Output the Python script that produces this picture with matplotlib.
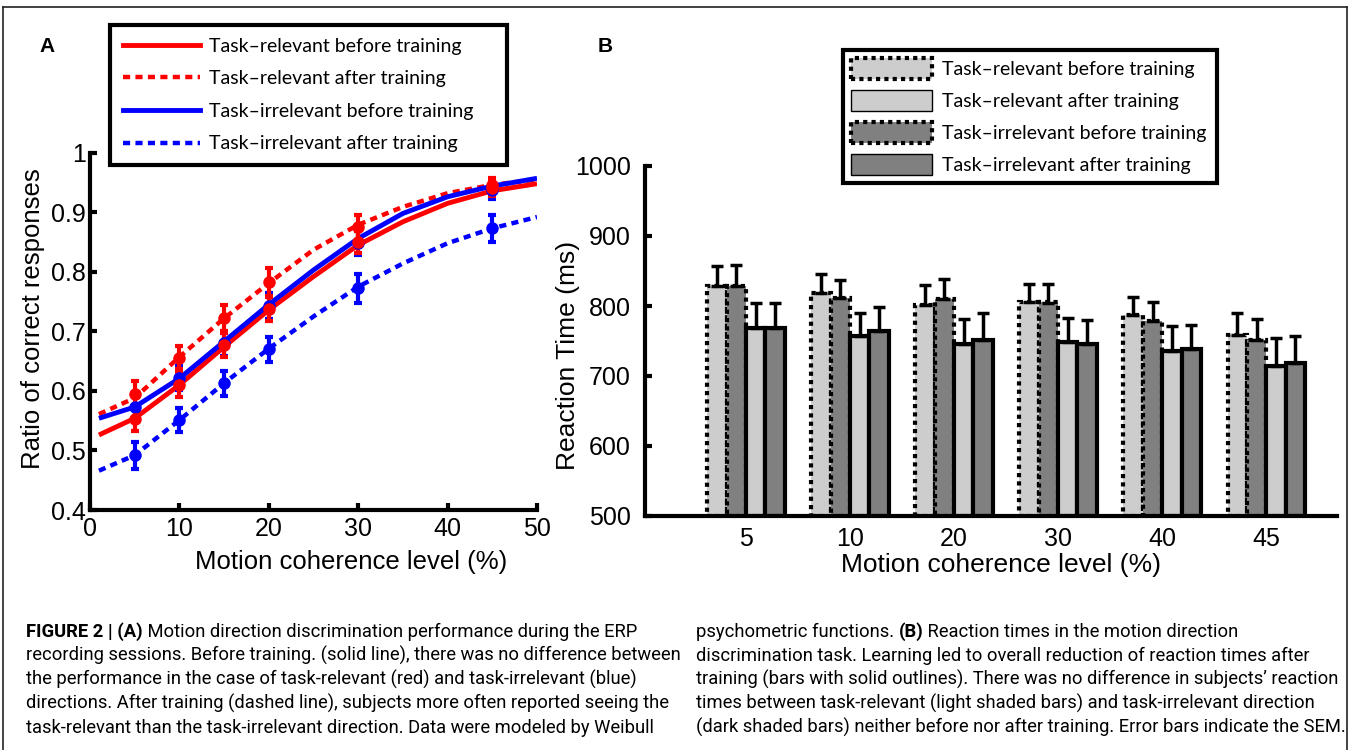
import matplotlib.pyplot as plt
import numpy as np
from matplotlib.lines import Line2D
from matplotlib.patches import Patch

# ---------------- data: panel A (psychometric) ----------------
coherence = [5, 10, 15, 20, 30, 45]
rel_before = [0.552, 0.610, 0.677, 0.738, 0.850, 0.940]
rel_after = [0.595, 0.656, 0.722, 0.783, 0.875, 0.946]
irr_before = [0.573, 0.621, 0.680, 0.743, 0.848, 0.937]
irr_after = [0.492, 0.551, 0.613, 0.670, 0.772, 0.873]
sem_rel_before = [0.020, 0.020, 0.020, 0.020, 0.018, 0.012]
sem_rel_after = [0.021, 0.020, 0.022, 0.024, 0.021, 0.012]
sem_irr_before = [0.020, 0.020, 0.021, 0.022, 0.020, 0.014]
sem_irr_after = [0.023, 0.020, 0.021, 0.021, 0.024, 0.023]

# Weibull fits
fit_x = [1, 5, 10, 15, 20, 25, 30, 35, 40, 45, 50]
fit_rel_before = [0.526, 0.554, 0.610, 0.674, 0.736, 0.792, 0.845, 0.884, 0.915, 0.936, 0.948]
fit_irr_before = [0.554, 0.573, 0.621, 0.683, 0.745, 0.803, 0.856, 0.898, 0.926, 0.944, 0.957]
fit_rel_after = [0.561, 0.588, 0.657, 0.722, 0.781, 0.837, 0.879, 0.909, 0.932, 0.946, 0.955]
fit_irr_after = [0.466, 0.492, 0.551, 0.613, 0.671, 0.725, 0.775, 0.814, 0.848, 0.873, 0.892]

# ---------------- data: panel B (reaction times) ----------------
groups = ['5', '10', '20', '30', '40', '45']
rt_rel_before = [828, 818, 802, 806, 787, 758]
rt_irr_before = [829, 812, 810, 805, 778, 751]
rt_rel_after = [769, 757, 746, 749, 736, 714]
rt_irr_after = [768, 764, 752, 746, 739, 718]
se_rel_before = [29, 28, 28, 25, 26, 32]
se_irr_before = [29, 25, 29, 26, 28, 30]
se_rel_after = [35, 33, 36, 34, 35, 40]
se_irr_after = [36, 35, 38, 34, 34, 39]

legend_labels = ['Task\u2013relevant before training', 'Task\u2013relevant after training',
                 'Task\u2013irrelevant before training', 'Task\u2013irrelevant after training']

# caption lines: parts alternate bold / regular, starting with bold
caption_left = [
    ('FIGURE 2 | (A)', ' Motion direction discrimination performance during the ERP'),
    ('', 'recording sessions. Before training. (solid line), there was no difference between'),
    ('', 'the performance in the case of task-relevant (red) and task-irrelevant (blue)'),
    ('', 'directions. After training (dashed line), subjects more often reported seeing the'),
    ('', 'task-relevant than the task-irrelevant direction. Data were modeled by Weibull'),
]
caption_right = [
    ('', 'psychometric functions. ', '(B)', ' Reaction times in the motion direction'),
    ('', 'discrimination task. Learning led to overall reduction of reaction times after'),
    ('', 'training (bars with solid outlines). There was no difference in subjects\u2019 reaction'),
    ('', 'times between task-relevant (light shaded bars) and task-irrelevant direction'),
    ('', '(dark shaded bars) neither before nor after training. Error bars indicate the SEM.'),
]

# ---------------- figure ----------------
W, H = 1354, 750
fig = plt.figure(figsize=(W / 100, H / 100), dpi=100)
plt.rcParams['font.family'] = ['Liberation Sans', 'DejaVu Sans']


def fx(px):
    return px / W


def fy(py):
    return 1 - py / H


RED = '#ff0000'
BLUE = '#0000ff'
dots = (0, (1.6, 1.2))
tick_font = 18
label_font = 19
leg_font = dict(family=['Lato', 'DejaVu Sans'], size=14)

# ---------------- panel A ----------------
axA = fig.add_axes([fx(90), fy(510), fx(537) - fx(90), fy(152.7) - fy(510)])
axA.plot(fit_x, fit_rel_before, color=RED, lw=3.5, solid_capstyle='butt')
axA.plot(fit_x, fit_rel_after, color=RED, lw=3.2, linestyle=dots, dash_capstyle='butt')
axA.plot(fit_x, fit_irr_before, color=BLUE, lw=3.5, solid_capstyle='butt')
axA.plot(fit_x, fit_irr_after, color=BLUE, lw=3.2, linestyle=dots, dash_capstyle='butt')

for vals, err, c in [(irr_after, sem_irr_after, BLUE), (irr_before, sem_irr_before, BLUE),
                     (rel_before, sem_rel_before, RED), (rel_after, sem_rel_after, RED)]:
    axA.errorbar(coherence, vals, yerr=err, fmt='o', color=c, ms=8,
                 elinewidth=3, capsize=3, capthick=3, zorder=4)

axA.set_xlim(0, 50)
axA.set_ylim(0.4, 1)
axA.set_xticks([0, 10, 20, 30, 40, 50])
axA.set_yticks([0.4, 0.5, 0.6, 0.7, 0.8, 0.9, 1.0])
axA.set_yticklabels(['0.4', '0.5', '0.6', '0.7', '0.8', '0.9', '1'])
for s in ['top', 'right']:
    axA.spines[s].set_visible(False)
for s in ['left', 'bottom']:
    axA.spines[s].set_linewidth(3)
axA.tick_params(direction='in', length=5, width=3, labelsize=tick_font)
axA.tick_params(axis='y', pad=3)
axA.tick_params(axis='x', pad=5)
axA.set_xlabel('Motion coherence level (%)', fontsize=label_font - 0.5)
axA.set_ylabel('Ratio of correct responses', fontsize=label_font - 0.5)
axA.xaxis.set_label_coords(0.584, -0.113)
axA.yaxis.set_label_coords(-0.1, 0.535)

hA = [Line2D([], [], color=RED, lw=3.5),
      Line2D([], [], color=RED, lw=3.2, linestyle=dots),
      Line2D([], [], color=BLUE, lw=3.5),
      Line2D([], [], color=BLUE, lw=3.2, linestyle=dots)]
legA = axA.legend(hA, legend_labels, loc='upper left', mode='expand',
                  bbox_to_anchor=(fx(110), fy(165), fx(507) - fx(110), fy(25) - fy(165)),
                  bbox_transform=fig.transFigure, borderaxespad=0, prop=leg_font,
                  fancybox=False, edgecolor='black', framealpha=1,
                  handlelength=3.96, handletextpad=0.46, labelspacing=0.8, borderpad=0.65)
legA.get_frame().set_linewidth(3)

# ---------------- panel B ----------------
axB = fig.add_axes([fx(645), fy(516), fx(1337) - fx(645), fy(166) - fy(516)])
x = np.arange(1, len(groups) + 1)
bw = 0.186
LIGHT = '#cdcdcd'
DARK = '#808080'
series = [
    (rt_rel_before, se_rel_before, LIGHT, (0, (1, 1))),
    (rt_irr_before, se_irr_before, DARK, (0, (1, 1))),
    (rt_rel_after, se_rel_after, LIGHT, 'solid'),
    (rt_irr_after, se_irr_after, DARK, 'solid'),
]
for i, (vals, err, col, ls) in enumerate(series):
    pos = x + (i - 1.5) * bw
    axB.bar(pos, np.array(vals) - 500, bw, bottom=500, color=col, edgecolor='black',
            linewidth=3, linestyle=ls, zorder=2)
    axB.errorbar(pos, vals, yerr=[np.zeros(len(err)), err], fmt='none', ecolor='black',
                 elinewidth=2.5, capsize=4, capthick=2.5, zorder=3)

axB.set_xlim(0.03, 6.68)
axB.set_ylim(500, 1000)
axB.set_xticks(x)
axB.set_xticklabels(groups)
axB.set_yticks([500, 600, 700, 800, 900, 1000])
for s in ['top', 'right']:
    axB.spines[s].set_visible(False)
for s in ['left', 'bottom']:
    axB.spines[s].set_linewidth(3)
    axB.spines[s].set_zorder(5)
axB.tick_params(axis='y', direction='in', length=5, width=3, labelsize=tick_font, pad=10)
axB.tick_params(axis='x', length=0, labelsize=tick_font, pad=8)
axB.set_xlabel('Motion coherence level (%)', fontsize=label_font)
axB.set_ylabel('Reaction Time (ms)', fontsize=label_font)
axB.xaxis.set_label_coords(0.514, -0.107)
axB.yaxis.set_label_coords(-0.094, 0.46)

hB = [Patch(facecolor=LIGHT, edgecolor='black', linestyle=(0, (1, 1)), linewidth=3),
      Patch(facecolor=LIGHT, edgecolor='black', linewidth=1),
      Patch(facecolor=DARK, edgecolor='black', linestyle=(0, (1, 1)), linewidth=3),
      Patch(facecolor=DARK, edgecolor='black', linewidth=1)]
legB = axB.legend(hB, legend_labels, loc='upper left', mode='expand',
                  bbox_to_anchor=(fx(843), fy(187), fx(1217) - fx(843), fy(50) - fy(187)),
                  bbox_transform=fig.transFigure, borderaxespad=0, prop=leg_font,
                  fancybox=False, edgecolor='black', framealpha=1,
                  handlelength=4.2, handleheight=1.29, handletextpad=0.5,
                  labelspacing=0.57, borderpad=0.4)
legB.get_frame().set_linewidth(3)

# panel letters
fig.text(fx(47), fy(47), 'A', fontsize=15, fontweight='bold', ha='center', va='center')
fig.text(fx(605), fy(47), 'B', fontsize=15, fontweight='bold', ha='center', va='center')

# ---------------- caption ----------------
cap_font = ['Liberation Sans Narrow', 'Roboto', 'DejaVu Sans']
cap_size = 13.2
renderer = fig.canvas.get_renderer()


def caption_line(x0, y0, parts):
    xpos = fx(x0)
    for k, part in enumerate(parts):
        if not part:
            continue
        t = fig.text(xpos, fy(y0), part, fontsize=cap_size, family=cap_font,
                     fontweight='bold' if k % 2 == 0 else 'normal', va='baseline')
        bb = t.get_window_extent(renderer=renderer)
        xpos += bb.width / W


line_y = [637, 661, 685, 709, 733]
for yy, parts in zip(line_y, caption_left):
    caption_line(26, yy, parts)
for yy, parts in zip(line_y, caption_right):
    caption_line(696, yy, parts)

# outer frame
frame_kw = dict(color='#222222', lw=1.2, transform=fig.transFigure)
fig.add_artist(Line2D([fx(3), fx(1347)], [fy(7), fy(7)], **frame_kw))
fig.add_artist(Line2D([fx(3), fx(3)], [fy(7), 0], **frame_kw))
fig.add_artist(Line2D([fx(1347), fx(1347)], [fy(7), 0], **frame_kw))

fig.savefig('out.png', dpi=100)
